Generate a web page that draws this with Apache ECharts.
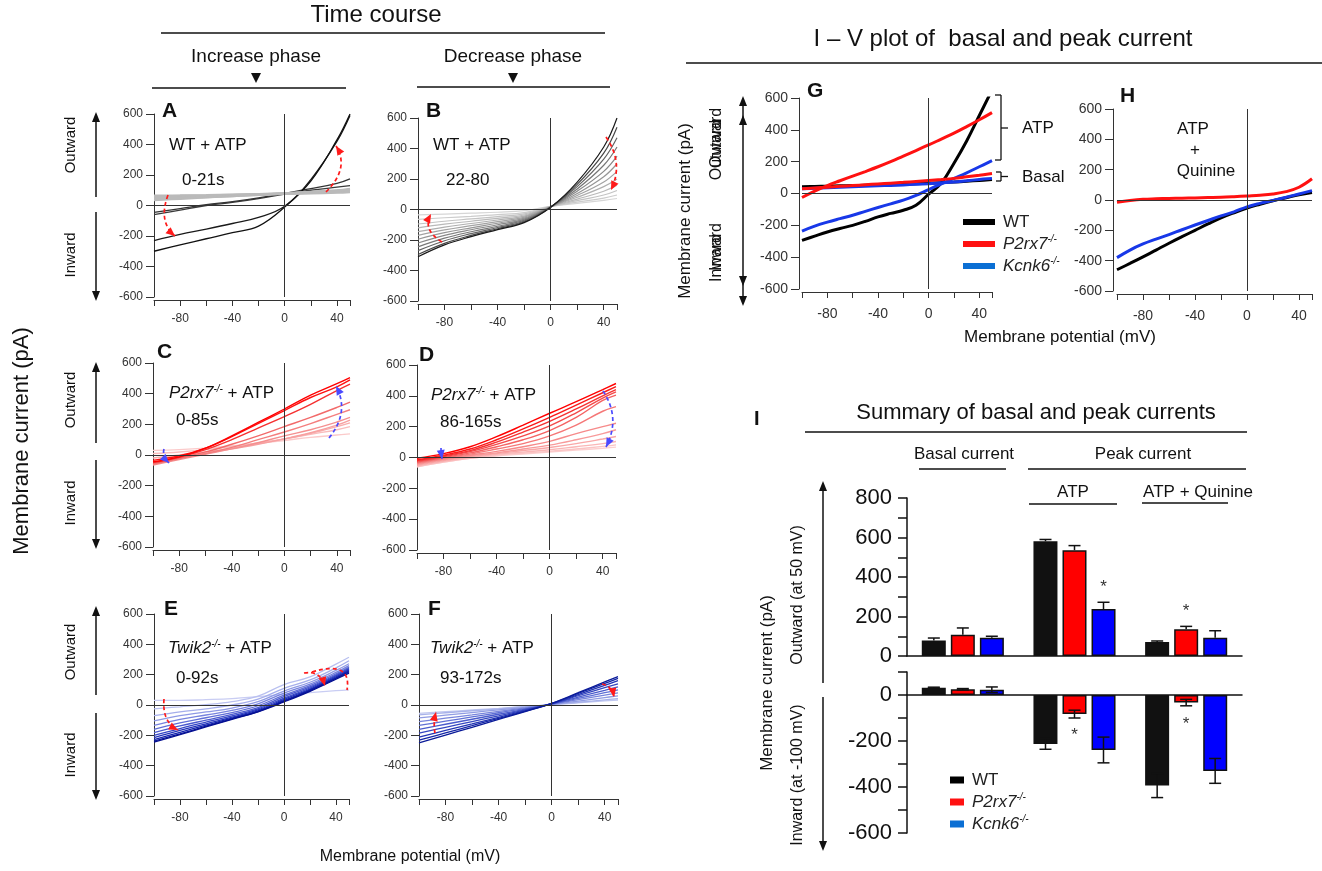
<!DOCTYPE html>
<html>
<head>
<meta charset="utf-8">
<title>Time course and I-V plots</title>
<script src="https://cdn.jsdelivr.net/npm/echarts@6.0.0/dist/echarts.min.js"></script>
<style>
  html, body { margin: 0; padding: 0; background: #fff; }
  #main { width: 1322px; height: 871px; }
</style>
</head>
<body>
<div id="main"></div>
<script>
// membrane potential sample points (mV)
const vTime = [-100, -80, -60, -40, -20, 0, 20, 40, 50];
const vIV = [-100, -90, -80, -70, -60, -50, -40, -30, -20, -10, 0, 10, 20, 30, 40, 50];
const xTickLabels = [-80, -40, 0, 40];

// A: WT + ATP, 0-21 s
const wtRiseDark = [
  [-60, -30, 0, 20, 45, 75, 100, 120, 130],
  [-45, -20, 5, 25, 50, 80, 110, 145, 175],
  [-230, -190, -155, -118, -78, -5, 170, 420, 590],
  [-300, -258, -218, -178, -135, -10, 160, 430, 600]
];
const wtRiseGray = [
  [40, 48, 55, 62, 70, 78, 86, 95, 100],
  [50, 55, 62, 68, 74, 80, 88, 96, 105],
  [60, 63, 66, 70, 74, 79, 84, 90, 95],
  [35, 44, 53, 62, 70, 78, 88, 100, 110],
  [55, 58, 62, 66, 71, 76, 82, 88, 92],
  [45, 52, 58, 65, 72, 80, 90, 98, 103],
  [65, 66, 68, 71, 74, 77, 80, 84, 88]
];
// B: WT + ATP, 22-80 s (light -> dark)
const wtFall = [
  [-35, -30, -24, -18, -8, 20, 40, 60, 72],
  [-65, -54, -45, -34, -20, 20, 48, 75, 95],
  [-95, -77, -62, -47, -29, 20, 58, 95, 125],
  [-120, -96, -77, -58, -36, 19, 68, 120, 160],
  [-145, -115, -92, -69, -43, 19, 80, 150, 200],
  [-170, -134, -106, -80, -50, 18, 92, 180, 250],
  [-195, -152, -120, -90, -57, 18, 105, 215, 300],
  [-220, -170, -133, -100, -63, 17, 120, 250, 350],
  [-245, -188, -146, -110, -70, 17, 135, 290, 410],
  [-270, -205, -158, -118, -76, 16, 150, 330, 470],
  [-295, -222, -170, -126, -82, 15, 165, 370, 540],
  [-310, -232, -178, -132, -86, 15, 180, 410, 600]
];
// C: P2rx7-/- + ATP, 0-85 s (light -> dark)
const p2Rise = [
  [30, 35, 45, 60, 75, 95, 115, 130, 138],
  [10, 20, 35, 55, 80, 105, 135, 165, 185],
  [-20, 0, 20, 45, 75, 105, 140, 185, 210],
  [-50, -20, 10, 40, 70, 105, 145, 195, 228],
  [-65, -30, 5, 40, 80, 125, 165, 215, 245],
  [-60, -25, 10, 50, 100, 150, 205, 265, 295],
  [-55, -20, 20, 70, 125, 185, 245, 310, 345],
  [-50, -15, 35, 100, 175, 250, 330, 420, 462],
  [-35, -5, 45, 120, 205, 290, 375, 445, 490],
  [-45, -12, 45, 125, 212, 300, 390, 465, 505]
];
// D: P2rx7-/- + ATP, 86-165 s (light -> dark)
const p2Fall = [
  [-60, -30, -5, 10, 22, 35, 48, 60, 67],
  [-60, -30, -5, 15, 28, 40, 55, 72, 82],
  [-55, -25, 0, 20, 35, 50, 70, 90, 104],
  [-50, -20, 5, 25, 45, 65, 90, 120, 136],
  [-45, -15, 10, 30, 55, 80, 115, 155, 180],
  [-40, -10, 15, 40, 70, 105, 155, 200, 222],
  [-35, -5, 22, 55, 90, 140, 210, 300, 330],
  [-30, 0, 30, 70, 115, 175, 260, 370, 405],
  [-25, 5, 38, 85, 140, 205, 290, 385, 425],
  [-20, 10, 45, 100, 165, 235, 315, 400, 440],
  [-15, 15, 55, 115, 185, 260, 340, 420, 460],
  [-5, 25, 70, 135, 210, 287, 362, 440, 480]
];
// E: Twik2-/- + ATP, 0-92 s (light -> dark)
const twikRise = [
  [30, 30, 35, 42, 55, 70, 82, 95, 100],
  [-25, -12, 2, 22, 58, 135, 185, 270, 315],
  [-70, -45, -25, 0, 38, 110, 165, 245, 292],
  [-105, -70, -46, -20, 22, 92, 150, 228, 272],
  [-135, -95, -66, -36, 8, 78, 138, 215, 260],
  [-160, -118, -84, -50, -5, 65, 128, 205, 250],
  [-182, -138, -100, -62, -17, 55, 120, 198, 244],
  [-200, -155, -113, -72, -25, 45, 112, 192, 238],
  [-215, -168, -124, -80, -32, 37, 105, 186, 232],
  [-228, -180, -133, -87, -38, 30, 100, 180, 225],
  [-238, -190, -140, -92, -43, 25, 95, 175, 218],
  [-245, -195, -145, -95, -45, 20, 90, 170, 210]
];
// F: Twik2-/- + ATP, 93-172 s (light -> dark)
const twikFall = [
  [-55, -44, -33, -22, -10, 2, 14, 27, 33],
  [-65, -51, -38, -25, -11, 2, 18, 34, 42],
  [-85, -67, -50, -32, -15, 3, 26, 49, 60],
  [-110, -87, -65, -42, -19, 5, 35, 65, 80],
  [-135, -107, -79, -51, -24, 6, 43, 81, 100],
  [-160, -127, -94, -61, -28, 7, 52, 97, 120],
  [-185, -147, -109, -71, -32, 8, 61, 114, 140],
  [-212, -168, -125, -81, -37, 9, 69, 130, 160],
  [-232, -184, -136, -88, -41, 10, 76, 142, 175],
  [-250, -198, -147, -95, -44, 11, 81, 152, 187]
];

// G: basal and peak I-V
const gWtAtp = [-295, -268, -242, -220, -200, -175, -147, -125, -105, -74, -4, 65, 190, 330, 490, 650];
const gWtBasal = [42, 44, 46, 48, 50, 52, 54, 56, 58, 61, 64, 68, 72, 77, 82, 88];
const gP2Atp = [-25, 15, 50, 80, 109, 138, 168, 200, 235, 270, 305, 342, 379, 420, 463, 508];
const gP2Basal = [30, 35, 40, 45, 50, 55, 60, 65, 70, 76, 82, 88, 95, 105, 115, 126];
const gK6Atp = [-236, -205, -180, -158, -137, -112, -88, -65, -42, -12, 25, 60, 95, 130, 168, 206];
const gK6Basal = [30, 33, 36, 39, 42, 45, 48, 51, 54, 58, 62, 67, 72, 80, 88, 95];
// H: ATP + quinine
const hWt = [-460, -418, -375, -330, -285, -242, -200, -158, -118, -84, -53, -28, -5, 15, 35, 50];
const hP2 = [-15, -3, 5, 8, 10, 12, 14, 16, 18, 22, 27, 32, 40, 55, 84, 140];
const hK6 = [-380, -330, -290, -258, -228, -196, -165, -135, -105, -78, -45, -22, -3, 18, 40, 62];

// I: summary bars
const groups = ['Basal current', 'ATP', 'ATP + Quinine'];
const outWT = [79, 581, 71], outWTErr = [12, 9, 5];
const outP2 = [108, 536, 135], outP2Err = [34, 23, 15];
const outK6 = [93, 238, 93], outK6Err = [7, 34, 35];
const inWT = [32, -213, -394], inWTErr = [2, 23, 52];
const inP2 = [25, -83, -33], inP2Err = [3, 17, 14];
const inK6 = [23, -239, -330], inK6Err = [12, 56, 54];
const starOut = [[1, 349, 29], [2, 228, 0]];
const starIn = [[1, -174, 0], [2, -126, 0]];

const FONT = '"Liberation Sans", Arial, Helvetica, sans-serif';
const NARROW = '"Liberation Sans Narrow", "Arial Narrow", "Liberation Sans", sans-serif';
const BLACK = '#111', RED = '#ff0000', BLUE = '#0000ff';

const colWtFall = ['#d6d6d6', '#cccccc', '#c3c3c3', '#b9b9b9', '#afafaf', '#a3a3a3', '#969696', '#888888', '#777777', '#636363', '#474747', '#1a1a1a'];
const colP2Rise = ['#fbcaca', '#f9bcbc', '#f8aeae', '#f7a0a0', '#f59090', '#f47e7e', '#f26a6a', '#f53030', '#ff1010', '#ff0000'];
const colP2Fall = ['#fcd0d0', '#fbc4c4', '#fab6b6', '#f9a8a8', '#f89a9a', '#f68a8a', '#f57777', '#f46262', '#f44a4a', '#f53232', '#fa1a1a', '#ff0000'];
const colTwikRise = ['#c9cdf3', '#b9c0f0', '#a5aeeb', '#8e99e5', '#7783de', '#606ed7', '#4a59cf', '#3445c6', '#2233bb', '#1424ae', '#0a18a0', '#050f90'];
const colTwikFall = ['#c0c8f0', '#a8b2ea', '#909ce3', '#7885dc', '#6070d5', '#4a5bcc', '#3446c0', '#2234b4', '#1426a6', '#0a1a98'];

const grids = [
  {left: 154, top: 114, width: 196, height: 183},  // A
  {left: 418, top: 118, width: 199, height: 183},  // B
  {left: 153, top: 363, width: 197, height: 184},  // C
  {left: 417, top: 365, width: 199, height: 185},  // D
  {left: 154, top: 614, width: 195, height: 182},  // E
  {left: 419, top: 614, width: 199, height: 182},  // F
  {left: 802, top: 98, width: 190, height: 191},   // G
  {left: 1117, top: 109, width: 195, height: 182}, // H
  {left: 907, top: 498, width: 335, height: 158},  // I outward
  {left: 907, top: 672, width: 335, height: 161}   // I inward
];

function ivX(gi, fs, margin) {
  return {
    gridIndex: gi, type: 'value', min: -100, max: 50, interval: 20, offset: 3,
    axisLine: {show: true, onZero: false, lineStyle: {color: '#333', width: 1}},
    axisTick: {show: true, length: 6, lineStyle: {color: '#333'}},
    axisLabel: {fontSize: fs, color: '#333', fontFamily: FONT, margin: margin,
      formatter: v => xTickLabels.includes(v) ? String(v) : ''},
    splitLine: {show: false}
  };
}
function ivY(gi, fs, off) {
  return {
    gridIndex: gi, type: 'value', min: -600, max: 600, interval: 200, offset: off,
    axisLine: {show: true, onZero: false, lineStyle: {color: '#333', width: 1}},
    axisTick: {show: true, length: 8, lineStyle: {color: '#333'}},
    axisLabel: {fontSize: fs, color: '#333', fontFamily: FONT, margin: 11},
    splitLine: {show: false}
  };
}

const xAxes = [], yAxes = [];
for (let i = 0; i < 6; i++) { xAxes.push(ivX(i, 12, 13)); yAxes.push(ivY(i, 12, 0)); }
xAxes.push(ivX(6, 14, 15)); yAxes.push(ivY(6, 14, 3));
xAxes.push(ivX(7, 14, 15)); yAxes.push(ivY(7, 14, 4));
[8, 9].forEach(gi => {
  xAxes.push({gridIndex: gi, type: 'category', data: groups,
    axisLine: {show: true, onZero: true, lineStyle: {color: BLACK, width: 1.5}},
    axisTick: {show: false}, axisLabel: {show: false}, splitLine: {show: false}});
});
yAxes.push({gridIndex: 8, type: 'value', min: 0, max: 800, interval: 100,
  axisLine: {show: true, onZero: false, lineStyle: {color: BLACK, width: 1.5}},
  axisTick: {show: true, length: 9, lineStyle: {color: BLACK, width: 1.5}},
  axisLabel: {fontSize: 22, color: BLACK, fontFamily: FONT, margin: 15,
    formatter: v => v % 200 === 0 ? String(v) : ''},
  splitLine: {show: false}});
yAxes.push({gridIndex: 9, type: 'value', min: -600, max: 100, interval: 100,
  axisLine: {show: true, onZero: false, lineStyle: {color: BLACK, width: 1.5}},
  axisTick: {show: true, length: 9, lineStyle: {color: BLACK, width: 1.5}},
  axisLabel: {fontSize: 22, color: BLACK, fontFamily: FONT, margin: 15,
    formatter: v => v % 200 === 0 ? String(v) : ''},
  splitLine: {show: false}});

const series = [];
const zeroMark = {
  silent: true, symbol: ['none', 'none'], label: {show: false}, animation: false,
  lineStyle: {color: '#333', width: 1, type: 'solid'}, emphasis: {disabled: true},
  data: [{xAxis: 0}, {yAxis: 0}]
};
function traces(gi, volts, list, colors, width, name, mark) {
  list.forEach((vals, k) => {
    const c = Array.isArray(colors) ? colors[k] : colors;
    const s = {
      type: 'line', xAxisIndex: gi, yAxisIndex: gi,
      data: volts.map((v, i) => [v, vals[i]]),
      showSymbol: false, symbol: 'none', smooth: 0.4,
      lineStyle: {color: c, width: width}, itemStyle: {color: c},
      silent: true, animation: false
    };
    if (name) s.name = name;
    if (mark && k === 0) s.markLine = zeroMark;
    series.push(s);
  });
}
traces(0, vTime, wtRiseDark, ['#3a3a3a', '#333333', '#1a1a1a', '#111111'], 1.3, null, true);
traces(0, vTime, wtRiseGray, '#bababa', 2.2);
traces(1, vTime, wtFall, colWtFall, 1.2, null, true);
traces(2, vTime, p2Rise, colP2Rise, 1.4, null, true);
traces(3, vTime, p2Fall, colP2Fall, 1.4, null, true);
traces(4, vTime, twikRise, colTwikRise, 1.3, null, true);
traces(5, vTime, twikFall, colTwikFall, 1.3, null, true);
traces(6, vIV, [gWtBasal, gWtAtp], '#000000', 3, 'WT', true);
traces(6, vIV, [gK6Basal, gK6Atp], '#1838e8', 3, 'Kcnk6');
traces(6, vIV, [gP2Basal, gP2Atp], '#ff1111', 3, 'P2rx7');
traces(7, vIV, [hWt], '#000000', 3, 'WT', true);
traces(7, vIV, [hK6], '#1838e8', 3, 'Kcnk6');
traces(7, vIV, [hP2], '#ff1111', 3, 'P2rx7');

// summary bars
function bars(gi, name, vals, color) {
  series.push({type: 'bar', name: name, xAxisIndex: gi, yAxisIndex: gi, data: vals,
    barWidth: 24, barGap: '21%', silent: true, animation: false,
    itemStyle: {color: color, borderColor: BLACK, borderWidth: 1.5}});
}
function errors(gi, means, errs, dx, twoSided) {
  series.push({
    type: 'custom', xAxisIndex: gi, yAxisIndex: gi, silent: true, z: 4, animation: false,
    data: means.map((m, i) => twoSided ? [i, m - errs[i], m + errs[i]] : [i, m, m + errs[i]]),
    encode: {x: 0, y: [1, 2]},
    renderItem: function (params, api) {
      const cx = api.coord([api.value(0), 0])[0] + dx;
      const y1 = api.coord([api.value(0), api.value(1)])[1];
      const y2 = api.coord([api.value(0), api.value(2)])[1];
      const st = {stroke: BLACK, lineWidth: 1.5};
      const kids = [
        {type: 'line', shape: {x1: cx, y1: y1, x2: cx, y2: y2}, style: st},
        {type: 'line', shape: {x1: cx - 6, y1: y2, x2: cx + 6, y2: y2}, style: st}
      ];
      if (twoSided) kids.push({type: 'line', shape: {x1: cx - 6, y1: y1, x2: cx + 6, y2: y1}, style: st});
      return {type: 'group', children: kids};
    }
  });
}
function stars(gi, list) {
  series.push({
    type: 'custom', xAxisIndex: gi, yAxisIndex: gi, silent: true, z: 5, animation: false,
    data: list, encode: {x: 0, y: 1},
    renderItem: function (params, api) {
      const p = api.coord([api.value(0), api.value(1)]);
      return {type: 'text', x: p[0] + api.value(2), y: p[1],
        style: {text: '*', fill: '#333', fontSize: 17, fontFamily: FONT, align: 'center', verticalAlign: 'middle'}};
    }
  });
}
bars(8, 'WT', outWT, BLACK); bars(8, 'P2rx7', outP2, RED); bars(8, 'Kcnk6', outK6, BLUE);
bars(9, 'WT', inWT, BLACK); bars(9, 'P2rx7', inP2, RED); bars(9, 'Kcnk6', inK6, BLUE);
errors(8, outWT, outWTErr, -29, false); errors(8, outP2, outP2Err, 0, false); errors(8, outK6, outK6Err, 29, false);
errors(9, inWT, inWTErr, -29, true); errors(9, inP2, inP2Err, 0, true); errors(9, inK6, inK6Err, 29, true);
stars(8, starOut); stars(9, starIn);

// text and annotation graphics
const G = [];
function text(x, y, str, o) {
  o = o || {};
  const st = {text: str, fill: o.color || BLACK, fontSize: o.size || 15, fontFamily: o.family || FONT,
    fontWeight: o.weight || 'normal', align: o.align || 'center', verticalAlign: 'middle'};
  if (o.rich) st.rich = o.rich;
  G.push({type: 'text', x: x, y: y, rotation: o.rot || 0, z: 100, silent: true, style: st});
}
function seg(x1, y1, x2, y2, w, color, dash) {
  G.push({type: 'line', z: 100, silent: true, shape: {x1: x1, y1: y1, x2: x2, y2: y2},
    style: {stroke: color || BLACK, lineWidth: w || 1.5, lineDash: dash || null}});
}
function head(x, y, ang, color, len, wid) {
  len = len || 10; wid = wid || 8;
  const bx = x - len * Math.cos(ang), by = y - len * Math.sin(ang);
  const px = -Math.sin(ang) * wid / 2, py = Math.cos(ang) * wid / 2;
  G.push({type: 'polygon', z: 100, silent: true,
    shape: {points: [[x, y], [bx + px, by + py], [bx - px, by - py]]}, style: {fill: color}});
}
function arrow(x1, y1, x2, y2) {
  const ang = Math.atan2(y2 - y1, x2 - x1);
  seg(x1, y1, x2 - 8 * Math.cos(ang), y2 - 8 * Math.sin(ang), 1.5, BLACK);
  head(x2, y2, ang, BLACK, 10, 8);
}
function curve(x1, y1, cx, cy, x2, y2, color, noHead) {
  G.push({type: 'bezierCurve', z: 100, silent: true,
    shape: {x1: x1, y1: y1, x2: x2, y2: y2, cpx1: cx, cpy1: cy},
    style: {stroke: color, lineWidth: 1.7, lineDash: [4, 3], fill: 'none'}});
  if (!noHead) head(x2, y2, Math.atan2(y2 - cy, x2 - cx), color, 9, 8);
}
function tri(x, y) {
  G.push({type: 'polygon', z: 100, silent: true,
    shape: {points: [[x - 5, y - 5], [x + 5, y - 5], [x, y + 5]]}, style: {fill: BLACK}});
}
const geneRich = {
  i: {fontStyle: 'italic', fontSize: 17, fontFamily: FONT, fill: BLACK, color: BLACK},
  s: {fontStyle: 'italic', fontSize: 10, fontFamily: FONT, verticalAlign: 'top', fill: BLACK, color: BLACK},
  n: {fontSize: 17, fontFamily: FONT, fill: BLACK, color: BLACK}
};
const ROT = Math.PI / 2;

// headers
text(376, 15, 'Time course', {size: 24, family: NARROW});
seg(161, 33, 605, 33);
text(256, 57, 'Increase phase', {size: 19, family: NARROW});
tri(256, 78); seg(152, 88, 346, 88);
text(513, 57, 'Decrease phase', {size: 19, family: NARROW});
tri(513, 78); seg(417, 87, 610, 87);
text(1003, 39, 'I \u2013 V plot of  basal and peak current', {size: 24, family: NARROW});
seg(686, 63, 1322, 63);

// left side labels
text(22, 441, 'Membrane current (pA)', {size: 22, rot: ROT});
text(410, 857, 'Membrane potential (mV)', {size: 16});
[[145, 255, 197, 112, 212, 301], [400, 503, 443, 362, 460, 549], [652, 755, 695, 606, 713, 800]].forEach(r => {
  text(71, r[0], 'Outward', {size: 15, rot: ROT});
  text(71, r[1], 'Inward', {size: 15, rot: ROT});
  arrow(96, r[2], 96, r[3]);
  arrow(96, r[4], 96, r[5]);
});

// panel letters
[['A', 162, 111], ['B', 426, 111], ['C', 157, 352], ['D', 419, 355], ['E', 164, 609], ['F', 428, 609], ['G', 807, 91], ['H', 1120, 96]]
  .forEach(l => text(l[1], l[2], l[0], {size: 21, weight: 'bold', align: 'left'}));

// panel captions
text(169, 145, 'WT + ATP', {size: 17, align: 'left'});
text(182, 180, '0-21s', {size: 17, align: 'left'});
text(433, 145, 'WT + ATP', {size: 17, align: 'left'});
text(446, 180, '22-80', {size: 17, align: 'left'});
text(169, 393, '{i|P2rx7}{s|-/-}{n| + ATP}', {size: 17, align: 'left', rich: geneRich});
text(176, 420, '0-85s', {size: 17, align: 'left'});
text(431, 395, '{i|P2rx7}{s|-/-}{n| + ATP}', {size: 17, align: 'left', rich: geneRich});
text(440, 422, '86-165s', {size: 17, align: 'left'});
text(168, 648, '{i|Twik2}{s|-/-}{n| + ATP}', {size: 17, align: 'left', rich: geneRich});
text(176, 678, '0-92s', {size: 17, align: 'left'});
text(430, 648, '{i|Twik2}{s|-/-}{n| + ATP}', {size: 17, align: 'left', rich: geneRich});
text(440, 678, '93-172s', {size: 17, align: 'left'});

// curved time-course arrows
curve(168, 195, 158, 222, 175, 236, '#ff1a1a');
curve(326, 192, 350, 168, 336, 146, '#ff1a1a');
curve(442, 242, 422, 230, 431, 214, '#ff1a1a');
curve(606, 137, 624, 163, 611, 190, '#ff1a1a');
curve(164, 449, 162, 456, 169, 463, '#4a4aff');
curve(329, 438, 350, 412, 336, 386, '#4a4aff');
curve(441, 448, 441, 452, 442, 459, '#4a4aff');
curve(603, 391, 621, 418, 606, 447, '#4a4aff');
curve(164, 699, 162, 722, 178, 730, '#ff1a1a');
curve(312, 672, 352, 660, 347, 690, '#ff1a1a', true);
curve(304, 673, 320, 670, 325, 686, '#ff1a1a');
curve(435, 733, 433, 724, 436, 712, '#ff1a1a');
curve(602, 684, 612, 686, 614, 697, '#ff1a1a');

// G / H annotations
text(685, 211, 'Membrane current (pA)', {size: 17, rot: ROT});
text(717, 150, 'Outward', {size: 16, rot: ROT});
text(717, 138, 'Outward', {size: 16, rot: ROT});
text(717, 258, 'Inward', {size: 16, rot: ROT});
text(717, 247, 'Inward', {size: 16, rot: ROT});
seg(743, 104, 743, 298, 1.5);
head(743, 96, -ROT, BLACK, 10, 8); head(743, 115, -ROT, BLACK, 10, 8);
head(743, 286, ROT, BLACK, 10, 8); head(743, 306, ROT, BLACK, 10, 8);
text(1060, 337, 'Membrane potential (mV)', {size: 17});
seg(1001, 95, 1001, 160, 1.3); seg(995, 95, 1001, 95, 1.3); seg(995, 160, 1001, 160, 1.3); seg(1001, 128, 1008, 128, 1.3);
seg(1001, 172, 1001, 181, 1.3); seg(996, 172, 1001, 172, 1.3); seg(996, 181, 1001, 181, 1.3); seg(1001, 176.5, 1008, 176.5, 1.3);
text(1022, 128, 'ATP', {size: 17, align: 'left'});
text(1022, 177, 'Basal', {size: 17, align: 'left'});
text(1193, 129, 'ATP', {size: 17});
text(1195, 150, '+', {size: 17});
text(1206, 171, 'Quinine', {size: 17});

// I annotations
text(754, 419, 'I', {size: 20, weight: 'bold', align: 'left'});
text(1036, 413, 'Summary of basal and peak currents', {size: 22});
seg(805, 432, 1247, 432);
text(964, 454, 'Basal current', {size: 17});
seg(919, 469, 1006, 469);
text(1143, 454, 'Peak current', {size: 17});
seg(1028, 469, 1246, 469);
text(1073, 492, 'ATP', {size: 17});
seg(1029, 504, 1117, 504);
text(1198, 492, 'ATP + Quinine', {size: 17});
seg(1142, 503, 1228, 503);
text(767, 683, 'Membrane current (pA)', {size: 17, rot: ROT});
text(798, 595, 'Outward (at 50 mV)', {size: 16, rot: ROT});
text(798, 775, 'Inward (at -100 mV)', {size: 16, rot: ROT});
arrow(823, 683, 823, 481);
arrow(823, 697, 823, 851);

function geneLabel(name) {
  return name === 'WT' ? 'WT' : '{i|' + name + '}{s|-/-}';
}
const legendText = {
  fontSize: 17, fontFamily: FONT, color: '#222', lineHeight: 20, padding: [0, 0, 0, 3],
  rich: {
    i: {fontStyle: 'italic', fontSize: 17, fontFamily: FONT, color: '#222', lineHeight: 20},
    s: {fontStyle: 'italic', fontSize: 10, fontFamily: FONT, color: '#222', verticalAlign: 'top', lineHeight: 20}
  }
};
const legendItems = [
  {name: 'WT', itemStyle: {color: '#000000'}},
  {name: 'P2rx7', itemStyle: {color: '#ff1111'}},
  {name: 'Kcnk6', itemStyle: {color: '#0b6fd4'}}
];

const chart = echarts.init(document.getElementById('main'), null, {renderer: 'canvas'});
chart.setOption({
  animation: false,
  backgroundColor: '#ffffff',
  grid: grids.map(g => Object.assign({outerBoundsMode: 'none', containLabel: false}, g)),
  xAxis: xAxes,
  yAxis: yAxes,
  legend: [
    {data: legendItems, left: 958, top: 207, orient: 'vertical', icon: 'rect',
      itemWidth: 32, itemHeight: 6, itemGap: 2, selectedMode: false,
      formatter: geneLabel, textStyle: legendText},
    {data: legendItems, left: 945, top: 765, orient: 'vertical', icon: 'rect',
      itemWidth: 14, itemHeight: 7, itemGap: 2, selectedMode: false,
      formatter: geneLabel, textStyle: legendText}
  ],
  series: series,
  graphic: {elements: G}
});
</script>
</body>
</html>
